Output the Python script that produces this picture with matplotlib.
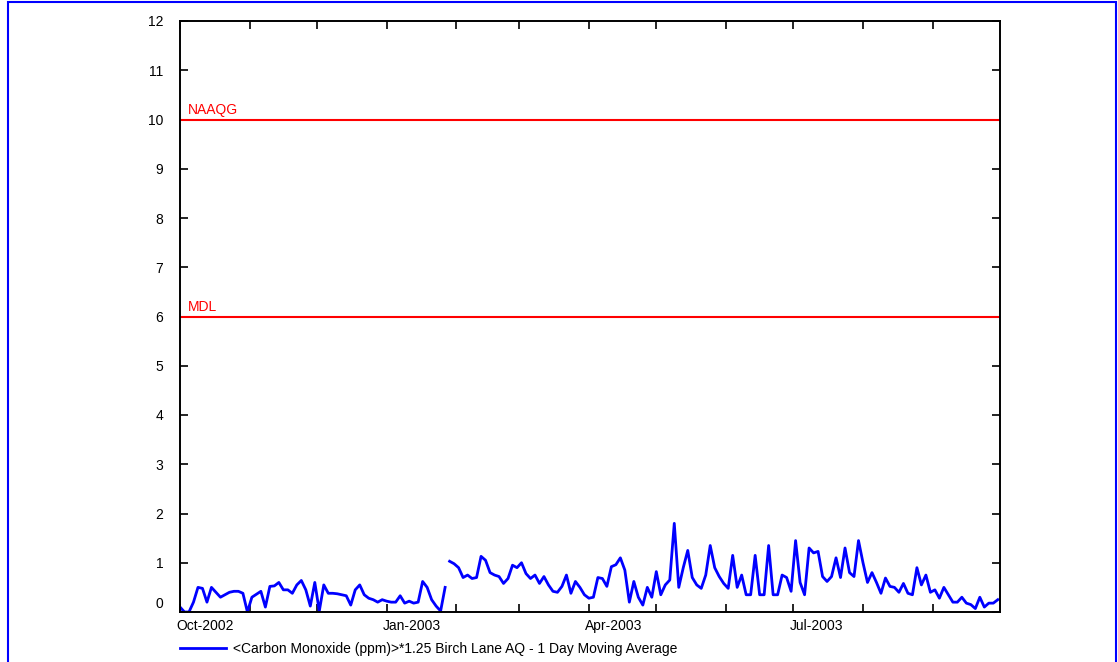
import numpy as np
import matplotlib
matplotlib.use("Agg")
import matplotlib.pyplot as plt
import matplotlib.dates as mdates
import matplotlib.transforms as mtransforms
from matplotlib.patches import Rectangle

# 1-day moving average of CO, sampled every 2 days from 1 Oct 2002
start_date = np.datetime64("2002-10-01")
step_days = 2

# before the data gap (late Jan 2003)
co_part1 = [0.10, 0.00, 0.00, 0.20, 0.50, 0.48, 0.20, 0.50, 0.40, 0.30,
            0.35, 0.40, 0.42, 0.42, 0.38, 0.00, 0.30, 0.36, 0.42, 0.10,
            0.52, 0.53, 0.60, 0.45, 0.45, 0.38, 0.55, 0.64, 0.45, 0.12,
            0.60, 0.02, 0.55, 0.38, 0.38, 0.37, 0.35, 0.33, 0.14, 0.45,
            0.55, 0.35, 0.28, 0.25, 0.20, 0.25, 0.22, 0.20, 0.20, 0.33,
            0.18, 0.22, 0.18, 0.20, 0.62, 0.50, 0.25, 0.12, 0.02, 0.50]

# after the gap
co_part2 = [1.03, 0.98, 0.90, 0.70, 0.75, 0.68, 0.70, 1.13, 1.05, 0.80,
            0.75, 0.72, 0.58, 0.68, 0.95, 0.90, 1.00, 0.78, 0.68, 0.75,
            0.58, 0.72, 0.55, 0.42, 0.40, 0.52, 0.75, 0.38, 0.62, 0.50,
            0.35, 0.28, 0.30, 0.70, 0.68, 0.52, 0.92, 0.96, 1.10, 0.85,
            0.20, 0.62, 0.30, 0.14, 0.50, 0.30, 0.82, 0.35, 0.55, 0.65,
            1.80, 0.50, 0.90, 1.25, 0.70, 0.55, 0.48, 0.75, 1.35, 0.90,
            0.72, 0.58, 0.48, 1.15, 0.50, 0.75, 0.35, 0.35, 1.15, 0.35,
            0.35, 1.35, 0.35, 0.35, 0.75, 0.70, 0.42, 1.45, 0.60, 0.35,
            1.30, 1.20, 1.23, 0.72, 0.62, 0.72, 1.10, 0.70, 1.30, 0.80,
            0.72, 1.45, 1.00, 0.60, 0.80, 0.60, 0.38, 0.69, 0.52, 0.50,
            0.40, 0.58, 0.38, 0.35, 0.90, 0.55, 0.75, 0.40, 0.45, 0.28,
            0.50, 0.35, 0.20, 0.20, 0.30, 0.18, 0.15, 0.07, 0.30, 0.10,
            0.18, 0.18, 0.25]

limits = {"NAAQG": 10, "MDL": 6}
legend_label = "<Carbon Monoxide (ppm)>*1.25 Birch Lane AQ - 1 Day Moving Average"

plt.rcParams["font.family"] = ["Liberation Sans", "DejaVu Sans"]
plt.rcParams["font.size"] = 10

fig = plt.figure(figsize=(11.18, 6.62), dpi=100)
ax = fig.add_axes([180 / 1118, 1 - 612 / 662, 820 / 1118, 591 / 662])

n1 = len(co_part1)
n2 = len(co_part2)
days = np.concatenate([np.arange(n1) * step_days,
                       [n1 * step_days - 1],
                       (np.arange(n2) + n1) * step_days])
dates = start_date + days.astype("timedelta64[D]")
values = np.concatenate([co_part1, [np.nan], co_part2])

line, = ax.plot(dates.astype("datetime64[s]").astype(object), values,
                color="#0000ff", lw=2, label=legend_label)

for name, level in limits.items():
    ax.axhline(level, color="#ff0000", lw=1.5)
    ax.text(0.01, level + 0.06, name, color="#ff0000", fontsize=10,
            transform=ax.get_yaxis_transform(), ha="left", va="bottom")

ax.set_xlim(mdates.datestr2num("2002-10-01"), mdates.datestr2num("2003-09-30 23:30"))
ax.set_ylim(0, 12)

ax.xaxis.set_major_locator(mdates.MonthLocator(bymonth=[1, 4, 7, 10]))
ax.xaxis.set_major_formatter(mdates.DateFormatter("%b-%Y"))
ax.xaxis.set_minor_locator(mdates.MonthLocator())
ax.set_yticks(range(0, 13))

ax.tick_params(which="both", direction="in", top=True, right=True,
               length=5.5, width=1.2, colors="black")
ax.tick_params(axis="y", pad=12)
ax.tick_params(axis="x", pad=5)
for s in ax.spines.values():
    s.set_linewidth(1.4)

fig.canvas.draw()
shift_x = mtransforms.ScaledTranslation(-4 / 100, 0, fig.dpi_scale_trans)
for lab in ax.get_xticklabels():
    lab.set_horizontalalignment("left")
    lab.set_transform(lab.get_transform() + shift_x)
shift_0 = mtransforms.ScaledTranslation(0, 9 / 100, fig.dpi_scale_trans)
ylabs = ax.get_yticklabels()
ylabs[0].set_transform(ylabs[0].get_transform() + shift_0)

ax.legend(handles=[line], loc="center left",
          bbox_to_anchor=(180 / 1118, 1 - 649 / 662),
          bbox_transform=fig.transFigure, frameon=False, fontsize=10,
          handlelength=3.3, handletextpad=0.5, borderpad=0, borderaxespad=0)

fig.add_artist(Rectangle((8 / 1118, -0.1), 1108 / 1118, 1.1 - 2 / 662,
                         transform=fig.transFigure, fill=False,
                         edgecolor="#0000ff", lw=1.5))

fig.savefig("out.png", dpi=100)
